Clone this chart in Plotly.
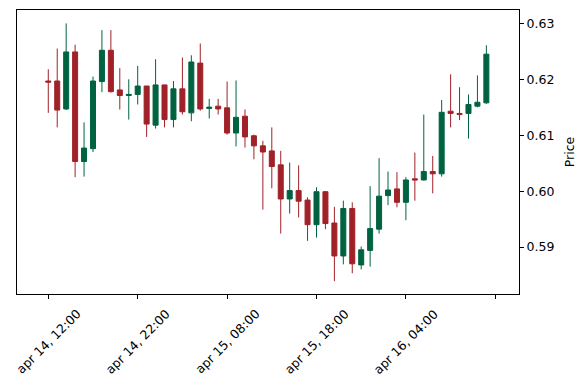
import plotly.graph_objects as go

tick_labels = ["apr 14, 12:00", "apr 14, 22:00", "apr 15, 08:00", "apr 15, 18:00", "apr 16, 04:00"]
tick_index = [0, 10, 20, 30, 40, 50]

open_ = [0.6197, 0.6197, 0.6147, 0.6249, 0.6053, 0.6076, 0.6196, 0.6252, 0.6181, 0.6171,
         0.6173, 0.6188, 0.6118, 0.6190, 0.6128, 0.6183, 0.6140, 0.6229, 0.6148, 0.6152,
         0.6149, 0.6104, 0.6134, 0.6099, 0.6081, 0.6072, 0.6047, 0.5986, 0.6001, 0.5984,
         0.5940, 0.5999, 0.5943, 0.5884, 0.5969, 0.5868, 0.5894, 0.5932, 0.5992, 0.6004,
         0.5980, 0.6022, 0.6020, 0.6035, 0.6031, 0.6143, 0.6139, 0.6139, 0.6152, 0.6158]
high = [0.6218, 0.6255, 0.6300, 0.6262, 0.6123, 0.6205, 0.6288, 0.6288, 0.6220, 0.6200,
        0.6224, 0.6188, 0.6236, 0.6190, 0.6197, 0.6239, 0.6243, 0.6264, 0.6165, 0.6165,
        0.6196, 0.6198, 0.6146, 0.6101, 0.6090, 0.6114, 0.6072, 0.6051, 0.6046, 0.5989,
        0.6007, 0.6000, 0.5972, 0.5983, 0.5980, 0.5901, 0.6009, 0.6059, 0.6035, 0.6034,
        0.6025, 0.6069, 0.6137, 0.6063, 0.6163, 0.6209, 0.6186, 0.6173, 0.6207, 0.6261]
low = [0.6140, 0.6114, 0.6145, 0.6025, 0.6026, 0.6070, 0.6177, 0.6176, 0.6146, 0.6128,
       0.6155, 0.6097, 0.6112, 0.6114, 0.6114, 0.6137, 0.6125, 0.6144, 0.6130, 0.6137,
       0.6101, 0.6080, 0.6078, 0.6057, 0.5967, 0.6005, 0.5924, 0.5960, 0.5953, 0.5911,
       0.5917, 0.5932, 0.5839, 0.5869, 0.5853, 0.5860, 0.5865, 0.5924, 0.5975, 0.5971,
       0.5948, 0.5983, 0.6019, 0.5996, 0.6026, 0.6114, 0.6127, 0.6094, 0.6150, 0.6156]
close = [0.6195, 0.6145, 0.6249, 0.6053, 0.6077, 0.6197, 0.6252, 0.6178, 0.6171, 0.6173,
         0.6188, 0.6120, 0.6190, 0.6128, 0.6183, 0.6142, 0.6231, 0.6147, 0.6150, 0.6147,
         0.6104, 0.6132, 0.6097, 0.6081, 0.6070, 0.6044, 0.5986, 0.6001, 0.5982, 0.5940,
         0.5999, 0.5942, 0.5884, 0.5969, 0.5870, 0.5895, 0.5933, 0.5991, 0.6002, 0.5980,
         0.6020, 0.6020, 0.6035, 0.6031, 0.6141, 0.6139, 0.6137, 0.6155, 0.6159, 0.6245]

x = list(range(len(open_)))

GREEN = "#006340"
RED = "#a02128"

fig = go.Figure(go.Candlestick(
    x=x, open=open_, high=high, low=low, close=close,
    increasing=dict(line=dict(color=GREEN, width=1), fillcolor=GREEN),
    decreasing=dict(line=dict(color=RED, width=1), fillcolor=RED),
    whiskerwidth=0,
    showlegend=False,
))

font = dict(family="DejaVu Sans", size=12.5, color="black")

annotations = []
for xi, lab in zip(tick_index, tick_labels):
    annotations.append(dict(
        x=xi, xref="x", y=-0.166, yref="paper",
        text=lab, showarrow=False, textangle=-45,
        xanchor="center", yanchor="middle", font=font,
    ))
annotations.append(dict(
    x=1.1, xref="paper", y=0.5, yref="paper",
    text="Price", showarrow=False, textangle=-90,
    xanchor="center", yanchor="middle", font=font,
))

# page body has an 8px margin; compensate so plot area lands where the reference has it
fig.update_layout(
    width=579, height=382,
    margin=dict(l=9, r=67.5, t=2, b=96),
    plot_bgcolor="white", paper_bgcolor="white",
    font=font,
    boxgap=0.2,
    annotations=annotations,
    xaxis=dict(
        range=[-3.5, 52.65], rangeslider=dict(visible=False),
        tickmode="array", tickvals=tick_index, ticktext=[""] * len(tick_index),
        ticks="outside", ticklen=4, tickcolor="black",
        showgrid=False, zeroline=False, automargin=False,
        showline=True, linecolor="black", linewidth=1, mirror=True,
    ),
    yaxis=dict(
        side="right", range=[0.5816, 0.6324],
        tickvals=[0.59, 0.60, 0.61, 0.62, 0.63],
        ticktext=["0.59", "0.60", "0.61", "0.62", "0.63"],
        ticks="outside", ticklen=4, tickcolor="black",
        showgrid=False, zeroline=False, automargin=False,
        showline=True, linecolor="black", linewidth=1, mirror=True,
    ),
)

fig.write_html("out.html")
